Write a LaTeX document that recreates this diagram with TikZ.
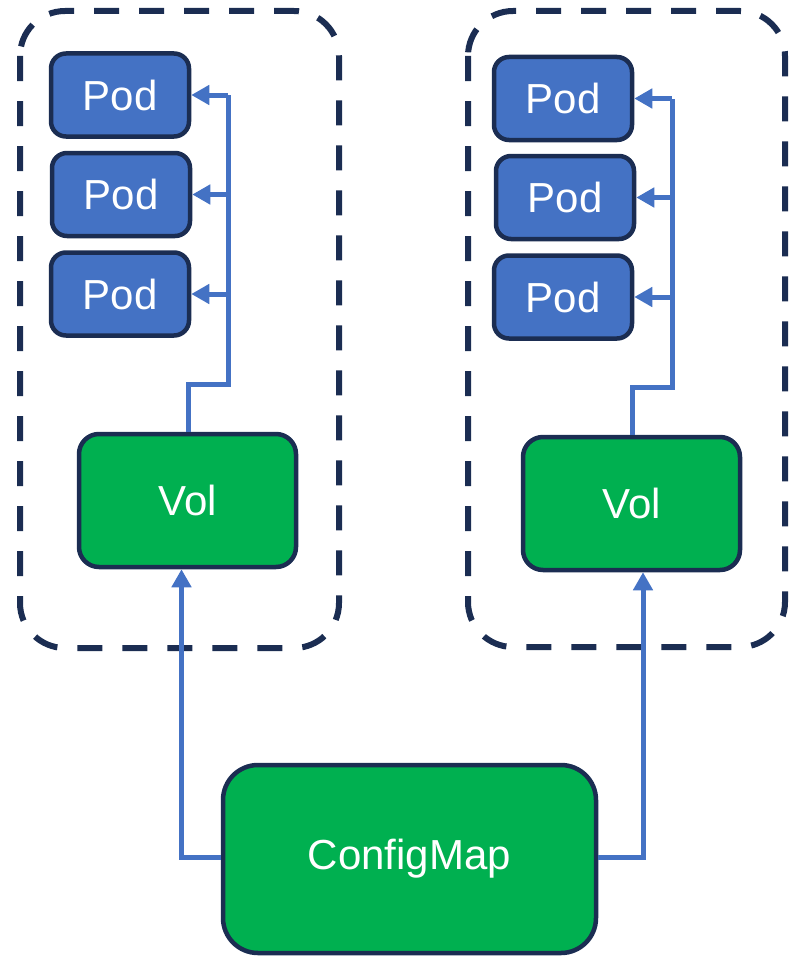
\documentclass[tikz,border=0pt]{standalone}
\usepackage{fontspec}
\setmainfont{Liberation Sans}
\usetikzlibrary{arrows.meta}
\definecolor{navy}{HTML}{1B2D52}
\definecolor{podblue}{HTML}{4472C4}
\definecolor{volgreen}{HTML}{00B050}
\tikzset{
  x=1pt, y=-1pt,
  group/.style={draw=navy, line width=6pt, dash pattern=on 25pt off 20pt, rounded corners=45pt},
  podbox/.style={draw=navy, fill=podblue, line width=4.5pt, rounded corners=15pt,
    minimum width=138pt, minimum height=83pt, text=white, inner sep=0pt,
    font=\fontsize{42}{50}\selectfont},
  volbox/.style={draw=navy, fill=volgreen, line width=4.5pt, rounded corners=20pt,
    minimum width=217pt, minimum height=133pt, text=white, inner sep=0pt,
    font=\fontsize{42}{50}\selectfont},
  cmbox/.style={volbox, rounded corners=35pt, minimum width=373pt, minimum height=188pt},
  link/.style={draw=podblue, line width=5pt},
  feed/.style={link, -{Triangle[length=18pt,width=19pt]}},
}
\begin{document}
\begin{tikzpicture}
\useasboundingbox (0,0) rectangle (790,958);

% dashed groups
\draw[group] (20,11) rectangle (339,648);
\draw[group] (468,11) rectangle (785,647);

% left group
\node[podbox] (pl1) at (120,95) {Pod};
\node[podbox] (pl2) at (121,194.5) {Pod};
\node[podbox] (pl3) at (120,294) {Pod};
\node[volbox] (vl) at (187.5,500.5) {Vol};

% right group
\node[podbox] (pr1) at (563,98.5) {Pod};
\node[podbox] (pr2) at (565,197.5) {Pod};
\node[podbox] (pr3) at (563,297) {Pod};
\node[volbox] (vr) at (631.5,503.5) {Vol};

% config map
\node[cmbox] (cm) at (409.5,859) {ConfigMap};

% trunk bends
\coordinate (bl) at (228,384);
\coordinate (br) at (672,387);

% volume to pods, left
\draw[link] ([xshift=0.5pt]vl.north) |- (bl) -- (pl1.east -| bl);
\draw[feed] (pl1.east -| bl) -- (pl1.east);
\draw[feed] (pl2.east -| bl) -- (pl2.east);
\draw[feed] (pl3.east -| bl) -- (pl3.east);

% volume to pods, right
\draw[link] ([xshift=0.5pt]vr.north) |- (br) -- (pr1.east -| br);
\draw[feed] (pr1.east -| br) -- (pr1.east);
\draw[feed] (pr2.east -| br) -- (pr2.east);
\draw[feed] (pr3.east -| br) -- (pr3.east);

% config map to volumes
\draw[feed] ([yshift=2pt]cm.west) -| ([xshift=-6pt]vl.south);
\draw[feed] ([yshift=2pt]cm.east) -| ([xshift=11.5pt]vr.south);
\end{tikzpicture}
\end{document}
